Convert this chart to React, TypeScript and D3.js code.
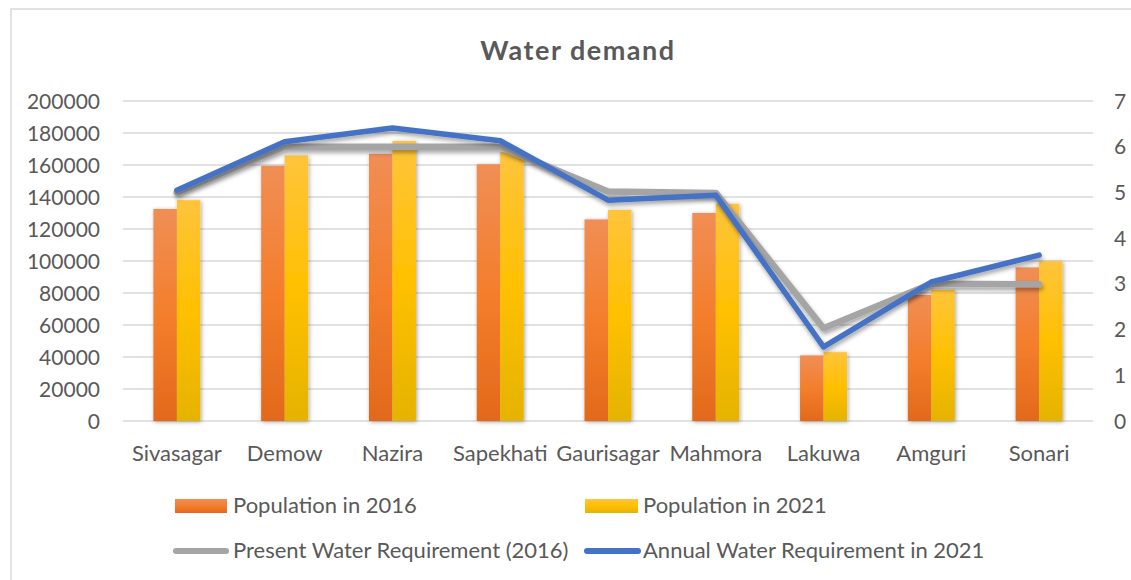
import React from "react";
import * as d3 from "d3";

const categories = ["Sivasagar", "Demow", "Nazira", "Sapekhati", "Gaurisagar", "Mahmora", "Lakuwa", "Amguri", "Sonari"];
const population2016 = [132500, 159500, 167000, 160500, 126000, 130000, 41000, 78800, 96000];
const population2021 = [138000, 166000, 175000, 168000, 132000, 135800, 43000, 82000, 100000];
const presentWater2016 = [5.0, 6.0, 6.0, 6.0, 5.02, 4.99, 2.03, 3.0, 2.99];
const annualWater2021 = [5.05, 6.11, 6.41, 6.13, 4.83, 4.94, 1.62, 3.04, 3.63];
const leftTicks = [0, 20000, 40000, 60000, 80000, 100000, 120000, 140000, 160000, 180000, 200000];
const rightTicks = [0, 1, 2, 3, 4, 5, 6, 7];

const W = 1131;
const H = 580;
const FONT = "Lato, 'Open Sans', sans-serif";
const TXT = "#595959";

export default function App() {
  const x = d3.scaleBand<string>().domain(categories).range([123, 1093]);
  const yL = d3.scaleLinear().domain([0, 200000]).range([421, 101]);
  const yR = d3.scaleLinear().domain([0, 7]).range([421, 101]);
  const step = x.step();
  const barW = 23.5;
  const cx = (c: string) => (x(c) as number) + step / 2;

  const line = (vals: number[]) =>
    d3
      .line<number>()
      .x((_, i) => cx(categories[i]))
      .y((v) => yR(v))(vals) as string;

  return (
    <svg width={W} height={H} style={{ position: "absolute", left: 0, top: 0, background: "#fff" }}>
      <defs>
        <linearGradient id="gOrange" x1="0" y1="0" x2="0" y2="1">
          <stop offset="0" stopColor="#F08E55" />
          <stop offset="0.5" stopColor="#F47E2C" />
          <stop offset="1" stopColor="#E2691B" />
        </linearGradient>
        <linearGradient id="gYellow" x1="0" y1="0" x2="0" y2="1">
          <stop offset="0" stopColor="#FFC43C" />
          <stop offset="0.5" stopColor="#FFC000" />
          <stop offset="1" stopColor="#E5B300" />
        </linearGradient>
        <filter id="shBar" x="-30%" y="-10%" width="160%" height="120%">
          <feDropShadow dx="1" dy="1" stdDeviation="2" floodColor="#000" floodOpacity="0.35" />
        </filter>
        <filter id="shLine" x="-5%" y="-20%" width="110%" height="140%">
          <feDropShadow dx="1" dy="3" stdDeviation="2.2" floodColor="#000" floodOpacity="0.35" />
        </filter>
      </defs>
      <rect x={11} y={9} width={W + 10} height={H + 10} fill="#fff" stroke="#d9d9d9" strokeWidth={1.5} />
      <text x={578} y={60} textAnchor="middle" fontFamily={FONT} fontWeight="bold" fontSize={27} letterSpacing={1.5} fill={TXT}>
        Water demand
      </text>
      {leftTicks.map((t) => (
        <g key={"l" + t}>
          <line x1={123} x2={1093} y1={yL(t)} y2={yL(t)} stroke="#d9d9d9" strokeWidth={1.5} />
          <text x={100} y={yL(t)} dy="0.36em" textAnchor="end" fontFamily={FONT} fontSize={21} fill={TXT}>
            {t}
          </text>
        </g>
      ))}
      {rightTicks.map((t) => (
        <text key={"r" + t} x={1114} y={yR(t)} dy="0.36em" fontFamily={FONT} fontSize={21} fill={TXT}>
          {t}
        </text>
      ))}
      {categories.map((c) => (
        <text key={"c" + c} x={cx(c)} y={461} textAnchor="middle" fontFamily={FONT} fontSize={22} fill={TXT}>
          {c}
        </text>
      ))}
      <g filter="url(#shBar)">
        {categories.map((c, i) => (
          <g key={"b" + c}>
            <rect x={cx(c) - barW} y={yL(population2016[i])} width={barW} height={yL(0) - yL(population2016[i])} fill="url(#gOrange)" />
            <rect x={cx(c)} y={yL(population2021[i])} width={barW} height={yL(0) - yL(population2021[i])} fill="url(#gYellow)" />
          </g>
        ))}
      </g>
      <path d={line(presentWater2016)} fill="none" stroke="#A5A5A5" strokeWidth={6.5} strokeLinecap="round" strokeLinejoin="round" filter="url(#shLine)" />
      <path d={line(annualWater2021)} fill="none" stroke="#4472C4" strokeWidth={5.5} strokeLinecap="round" strokeLinejoin="round" filter="url(#shLine)" />
      {/* Legend */}
      <rect x={175} y={499} width={52} height={14} fill="url(#gOrange)" />
      <text x={233} y={513} fontFamily={FONT} fontSize={22} fill={TXT}>Population in 2016</text>
      <rect x={585} y={499} width={53} height={14} fill="url(#gYellow)" />
      <text x={643} y={513} fontFamily={FONT} fontSize={22} fill={TXT}>Population in 2021</text>
      <line x1={176} x2={226} y1={551} y2={551} stroke="#A5A5A5" strokeWidth={6} strokeLinecap="round" />
      <text x={233} y={558} fontFamily={FONT} fontSize={22} fill={TXT}>Present Water Requirement (2016)</text>
      <line x1={587} x2={638} y1={551} y2={551} stroke="#4472C4" strokeWidth={6} strokeLinecap="round" />
      <text x={643} y={558} fontFamily={FONT} fontSize={22} fill={TXT}>Annual Water Requirement in 2021</text>
    </svg>
  );
}
